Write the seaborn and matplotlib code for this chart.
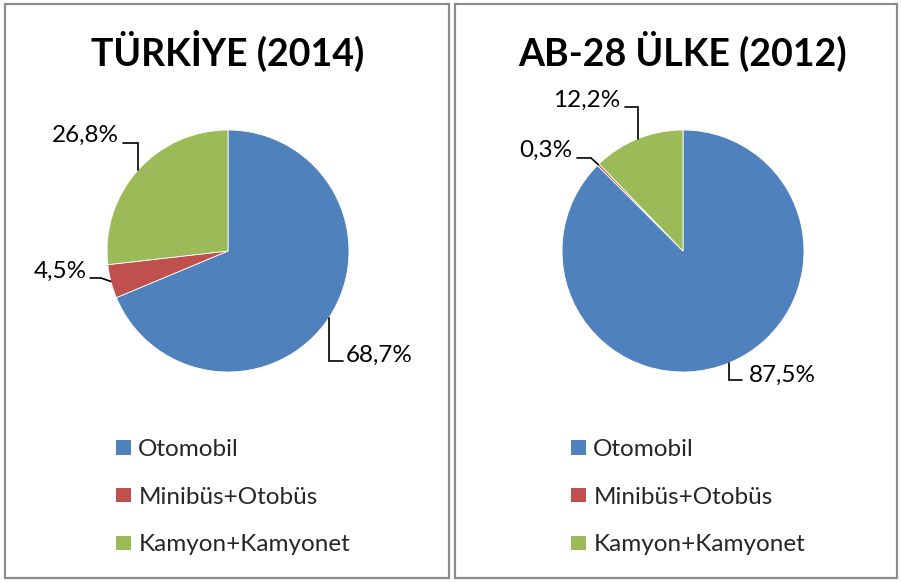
import matplotlib
matplotlib.use("Agg")
import matplotlib.pyplot as plt
from matplotlib.patches import Rectangle, Patch
import numpy as np
import seaborn as sns

# ---- data ----
categories = ["Otomobil", "Minibüs+Otobüs", "Kamyon+Kamyonet"]
turkiye_2014 = [68.7, 4.5, 26.8]
ab28_2012 = [87.5, 0.3, 12.2]
titles = ["TÜRKİYE (2014)", "AB-28 ÜLKE (2012)"]
colors = ["#4F81BD", "#C0504D", "#9BBB59"]

sns.set_theme(style="white")
plt.rcParams["font.family"] = ["Lato", "DejaVu Sans"]

W, H = 901, 583
fig = plt.figure(figsize=(W / 100, H / 100), dpi=100)
fig.patch.set_facecolor("white")

def fx(px):
    return px / W

def fy(py):
    return 1 - py / H

# panel borders
for x0, x1 in [(5, 449), (455, 897)]:
    fig.patches.append(Rectangle((fx(x0), fy(578)), fx(x1 - x0), (578 - 4) / H,
                                 transform=fig.transFigure, fill=False,
                                 edgecolor="#8C8C8C", linewidth=1.6))

R = 121
centers = [(228, 251), (683, 251)]
title_x = [228, 683]
LBL = 17.5

# label layout (radius units relative to pie centre): elbow, line end, text pos, ha
layouts = [
    [((None, -0.909), (0.950, -0.909), (0.975, -0.86), "left"),
     ((-1.05, -0.223), (-1.14, -0.223), (-1.17, -0.165), "right"),
     ((None, 0.893), (-0.868, 0.893), (-0.905, 0.955), "right")],
    [((None, -1.066), (0.488, -1.066), (0.545, -1.025), "left"),
     ((-0.760, 0.769), (-0.876, 0.769), (-0.912, 0.832), "right"),
     ((None, 1.19), (-0.479, 1.19), (-0.515, 1.245), "right")],
]

datasets = [turkiye_2014, ab28_2012]
for i, (vals, (cx, cy)) in enumerate(zip(datasets, centers)):
    ax = fig.add_axes([fx(cx - R), fy(cy + R), fx(2 * R), 2 * R / H])
    wedges, _ = ax.pie(vals, colors=colors, startangle=90, counterclock=False,
                       radius=1, wedgeprops=dict(linewidth=0.6, edgecolor="white"))
    ax.set_xlim(-1, 1)
    ax.set_ylim(-1, 1)
    ax.set_aspect("auto")
    ax.axis("off")
    for w, v, lay in zip(wedges, vals, layouts[i]):
        mid = np.deg2rad((w.theta1 + w.theta2) / 2)
        ex, ey = np.cos(mid), np.sin(mid)
        (elx, ely), (lx, ly), (tx, ty), ha = lay
        if elx is None:
            elx = ex
        ax.plot([ex, elx, lx], [ey, ely, ly], color="black", lw=1.2, clip_on=False,
                solid_joinstyle="miter")
        ax.text(tx, ty, f"{v:.1f}%".replace(".", ","), ha=ha, va="center",
                fontsize=LBL, color="black", clip_on=False)
    fig.text(fx(title_x[i]), fy(51), titles[i], ha="center", va="center",
             fontsize=27, fontweight="bold", color="black")
    handles = [Patch(facecolor=c, edgecolor="none") for c in colors]
    leg_x = [116, 571][i]
    fig.legend(handles, categories, loc="upper left",
               bbox_to_anchor=(fx(leg_x), fy(439)), frameon=False,
               fontsize=LBL, handlelength=0.62, handleheight=0.54,
               handletextpad=0.3, labelspacing=1.1, borderaxespad=0,
               borderpad=0)

fig.savefig("out.png", dpi=100, facecolor="white")
